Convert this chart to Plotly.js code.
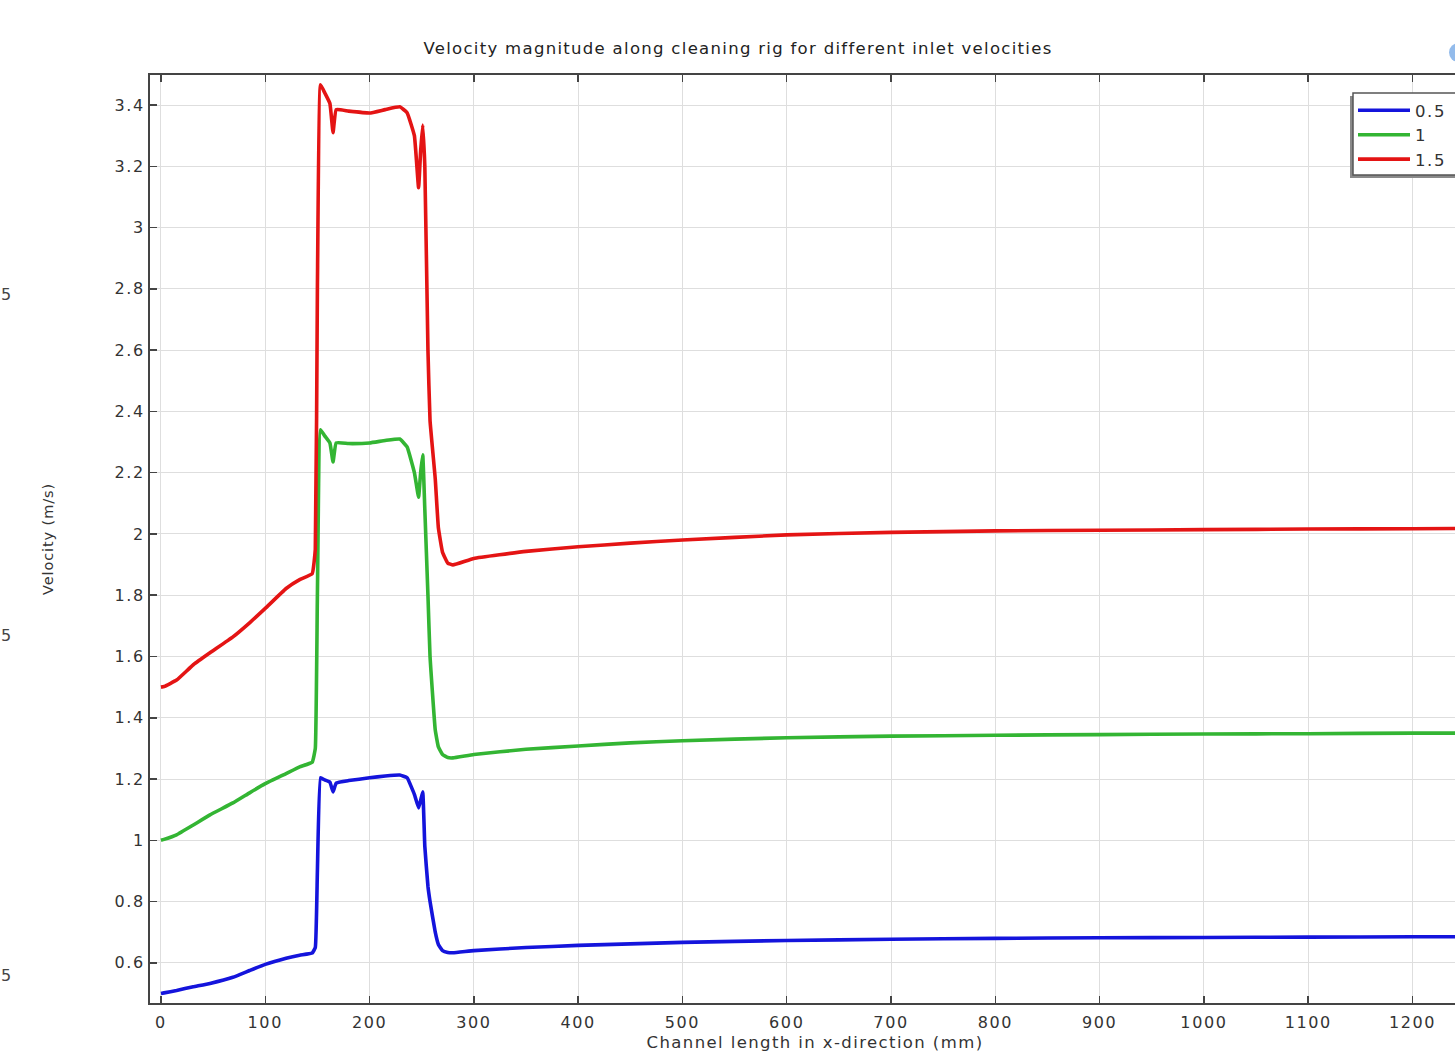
<!DOCTYPE html>
<html>
<head>
<meta charset="utf-8">
<script src="https://cdn.plot.ly/plotly-3.0.1.min.js"></script>
<style>
html,body{margin:0;padding:0;background:#fff;overflow:hidden;}
#chart{width:1480px;height:1057px;}
#chart .gtitle{letter-spacing:1.3px;}
#chart .xtitle{letter-spacing:1.4px;}
#chart .ytitle{letter-spacing:0.9px;}
#chart .xtick text, #chart .ytick text{letter-spacing:1.6px;}
#chart .legendtext{letter-spacing:1.6px;}
</style>
</head>
<body>
<div id="chart"></div>
<script>
// Channel length (mm), shared by the three series
const xMM = [0, 3, 15, 31, 47, 69, 85, 100, 120, 133, 145, 148, 150, 153, 157, 162, 165, 168, 180, 200, 215, 229, 236, 243, 247, 249, 251, 253, 256, 258, 263, 266, 270, 275, 280, 300, 350, 400, 450, 500, 600, 700, 800, 900, 1000, 1100, 1200, 1265];

// Velocity magnitude (m/s) for each inlet velocity
const vel05 = [0.5, 0.502, 0.51, 0.522, 0.533, 0.553, 0.575, 0.595, 0.615, 0.625, 0.632, 0.65, 0.9, 1.204, 1.197, 1.19, 1.158, 1.187, 1.195, 1.204, 1.21, 1.213, 1.204, 1.15, 1.106, 1.13, 1.158, 0.98, 0.85, 0.80, 0.70, 0.66, 0.64, 0.634, 0.633, 0.64, 0.65, 0.657, 0.662, 0.667, 0.673, 0.677, 0.68, 0.682, 0.683, 0.684, 0.685, 0.685];
const vel10 = [1.0, 1.003, 1.018, 1.05, 1.083, 1.122, 1.155, 1.185, 1.218, 1.24, 1.255, 1.3, 1.8, 2.34, 2.32, 2.297, 2.235, 2.297, 2.295, 2.297, 2.305, 2.31, 2.284, 2.2, 2.12, 2.2, 2.258, 2.08, 1.8, 1.6, 1.36, 1.305, 1.28, 1.27, 1.269, 1.28, 1.297, 1.308, 1.318, 1.325, 1.335, 1.34, 1.343, 1.345, 1.347, 1.348, 1.35, 1.35];
const vel15 = [1.5, 1.502, 1.523, 1.573, 1.612, 1.664, 1.71, 1.757, 1.822, 1.851, 1.87, 1.95, 2.8, 3.466, 3.44, 3.405, 3.31, 3.385, 3.38, 3.374, 3.385, 3.394, 3.375, 3.30, 3.13, 3.25, 3.335, 3.2, 2.6, 2.37, 2.18, 2.02, 1.94, 1.905, 1.899, 1.92, 1.943, 1.958, 1.97, 1.98, 1.997, 2.005, 2.01, 2.012, 2.014, 2.016, 2.017, 2.018];

const seriesNames = ['0.5', '1', '1.5'];
const seriesColors = ['#1414dc', '#33b533', '#e41414'];
const seriesValues = [vel05, vel10, vel15];

const chartTitle = 'Velocity magnitude along cleaning rig for different inlet velocities';
const xTitle = 'Channel length in x-direction (mm)';
const yTitle = 'Velocity (m/s)';

const traces = seriesValues.map((v, i) => ({
  x: xMM, y: v, type: 'scatter', mode: 'lines', name: seriesNames[i],
  line: {color: seriesColors[i], width: 3.6, shape: 'spline', smoothing: 0.3}
}));

const FF = 'DejaVu Sans, sans-serif';
const W = 1480, PL = 150, PT = 75, PH = 928, PW = W - PL;
const px2x = p => (p - PL) / PW;
const py2y = p => 1 - (p - PT) / PH;

const axisCommon = {
  showline: true, linecolor: '#444', linewidth: 2, mirror: 'ticks',
  ticks: 'inside', ticklen: 7, tickcolor: '#444', tickwidth: 1.5,
  showgrid: true, gridcolor: '#dedede', gridwidth: 1, zeroline: false,
  tickfont: {family: FF, size: 16, color: '#333'},
  automargin: false
};

const layout = {
  width: W, height: 1057,
  margin: {l: PL, r: 0, t: PT, b: 54},
  paper_bgcolor: '#fff', plot_bgcolor: '#fff',
  font: {family: FF, size: 15, color: '#333'},
  title: {text: chartTitle, x: 738 / W, xanchor: 'center', y: 1 - 48 / 1057, yanchor: 'middle',
          font: {family: FF, size: 16.5, color: '#222'}},
  xaxis: Object.assign({}, axisCommon, {
    range: [-10.5, 1264.7], dtick: 100, tick0: 0, ticklabelstandoff: 4,
    title: {text: xTitle, standoff: 5, font: {family: FF, size: 16.5, color: '#333'}}
  }),
  yaxis: Object.assign({}, axisCommon, {
    range: [0.469, 3.498], dtick: 0.2, tick0: 0,
    title: {text: yTitle, standoff: 62, font: {family: FF, size: 14.5, color: '#333'}}
  }),
  showlegend: true,
  legend: {
    x: px2x(1353), y: py2y(93), xanchor: 'left', yanchor: 'top',
    bgcolor: 'rgba(0,0,0,0)', borderwidth: 0,
    font: {family: FF, size: 16.5, color: '#333'},
    tracegroupgap: 0, itemwidth: 52
  },
  shapes: [
    // legend box shadow and frame
    {type: 'rect', xref: 'paper', yref: 'paper', x0: px2x(1350), x1: 1.0, y0: py2y(178), y1: py2y(96),
     fillcolor: '#8a8a8a', line: {width: 0}, layer: 'above'},
    {type: 'rect', xref: 'paper', yref: 'paper', x0: px2x(1353), x1: 1.0, y0: py2y(175), y1: py2y(93),
     fillcolor: '#fff', line: {color: '#555', width: 1.5}, layer: 'above'},
    {type: 'circle', xref: 'paper', yref: 'paper', x0: px2x(1449), x1: px2x(1468), y0: 1 + (75 - 62) / PH, y1: 1 + (75 - 43) / PH,
     fillcolor: 'rgba(120,170,230,0.8)', line: {width: 0}}
  ],
  annotations: [295, 635, 975].map(py => ({
    text: '5', xref: 'paper', yref: 'paper', x: -PL / PW, y: py2y(py),
    showarrow: false, xanchor: 'left', yanchor: 'middle', borderpad: 0,
    font: {family: FF, size: 16, color: '#444'}
  }))
};

Plotly.newPlot('chart', traces, layout, {displayModeBar: false, staticPlot: true});
</script>
</body>
</html>
